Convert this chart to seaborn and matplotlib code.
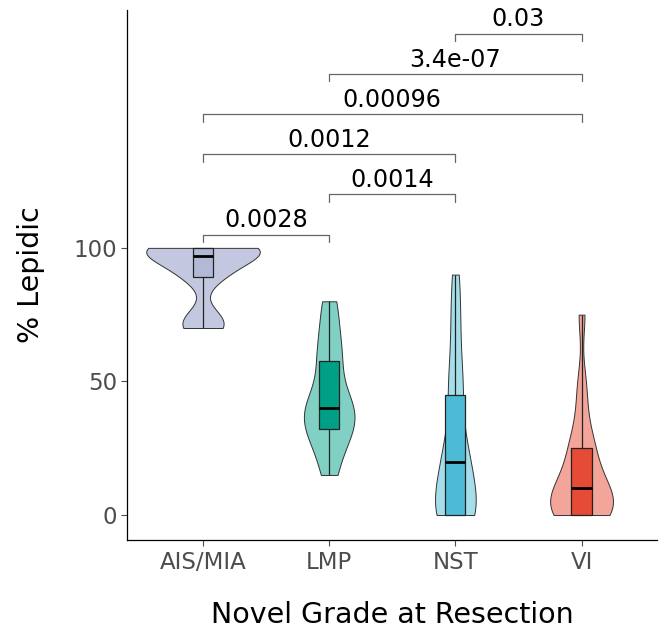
import numpy as np
import pandas as pd
import matplotlib
matplotlib.use("Agg")
import matplotlib.pyplot as plt
import seaborn as sns

# grades on the x axis
grades = ["AIS/MIA", "LMP", "NST", "VI"]

ais_mia = [70, 70, 72, 75, 89, 90, 92, 95, 97, 98, 100, 100, 100, 100, 100, 100, 100]
lmp = [15, 25, 30, 33, 37, 40, 40, 45, 57, 60, 70, 80]
nst = [0, 0, 0, 0, 0, 0, 0, 5, 8, 10, 15, 20, 20, 22, 25, 30, 45, 45, 50, 60, 70, 80, 90]
vi = [0, 0, 0, 0, 0, 0, 5, 5, 10, 10, 10, 10, 15, 20, 25, 25, 30, 40, 50, 75]

# pairwise comparisons (bottom to top) and their p values
pairs = [("AIS/MIA", "LMP"), ("LMP", "NST"), ("AIS/MIA", "NST"),
         ("AIS/MIA", "VI"), ("LMP", "VI"), ("NST", "VI")]
p_labels = ["0.0028", "0.0014", "0.0012", "0.00096", "3.4e-07", "0.03"]

violin_colors = ["#C3C8E0", "#80D0C3", "#A6DDEA", "#F3A59A"]
box_colors = ["#B1B9D6", "#00A087", "#4DBBD5", "#E64B35"]

df = pd.concat([
    pd.DataFrame({"grade": g, "lepidic": v})
    for g, v in zip(grades, [ais_mia, lmp, nst, vi])
])

sns.set_style("white")
plt.rcParams["font.family"] = ["DejaVu Sans"]

fig, ax = plt.subplots(figsize=(6.7, 6.31), dpi=100)
fig.subplots_adjust(left=0.19, right=0.981, bottom=0.144, top=0.984)

sns.violinplot(data=df, x="grade", y="lepidic", hue="grade", order=grades,
               palette=violin_colors, saturation=1, inner=None, cut=0,
               width=0.9, density_norm="area", common_norm=True,
               bw_adjust=0.72, linewidth=0.7, linecolor="#333333",
               legend=False, ax=ax)
sns.boxplot(data=df, x="grade", y="lepidic", hue="grade", order=grades,
            palette=box_colors, saturation=1, width=0.16, whis=(0, 100),
            showfliers=False, showcaps=False, linewidth=0.9,
            linecolor="#222222",
            medianprops=dict(linewidth=2, color="black"),
            legend=False, ax=ax)

# significance brackets
pos = {g: i for i, g in enumerate(grades)}
base, step, tick = 105, 15, 2.7
for i, ((a, b), lab) in enumerate(zip(pairs, p_labels)):
    y = base + step * i
    xa, xb = pos[a], pos[b]
    ax.plot([xa, xa, xb, xb], [y - tick, y, y, y - tick],
            color="#666666", linewidth=0.9)
    ax.text((xa + xb) / 2, y + 1.0, lab, ha="center", va="bottom",
            fontsize=17.2, color="black")

ax.set_xlim(-0.6, 3.6)
ax.set_ylim(-9.4, 189)
ax.set_yticks([0, 50, 100])
ax.set_xlabel("Novel Grade at Resection", fontsize=20.5, labelpad=20,
              color="black")
ax.set_ylabel("% Lepidic", fontsize=20.5, labelpad=20, color="black")
ax.tick_params(axis="both", labelsize=16.5, labelcolor="#4D4D4D",
               colors="#4D4D4D", length=4, width=0.8, left=True, bottom=True)
for s in ["top", "right"]:
    ax.spines[s].set_visible(False)
for s in ["left", "bottom"]:
    ax.spines[s].set_color("black")
    ax.spines[s].set_linewidth(0.9)

fig.savefig("out.png", dpi=100)
